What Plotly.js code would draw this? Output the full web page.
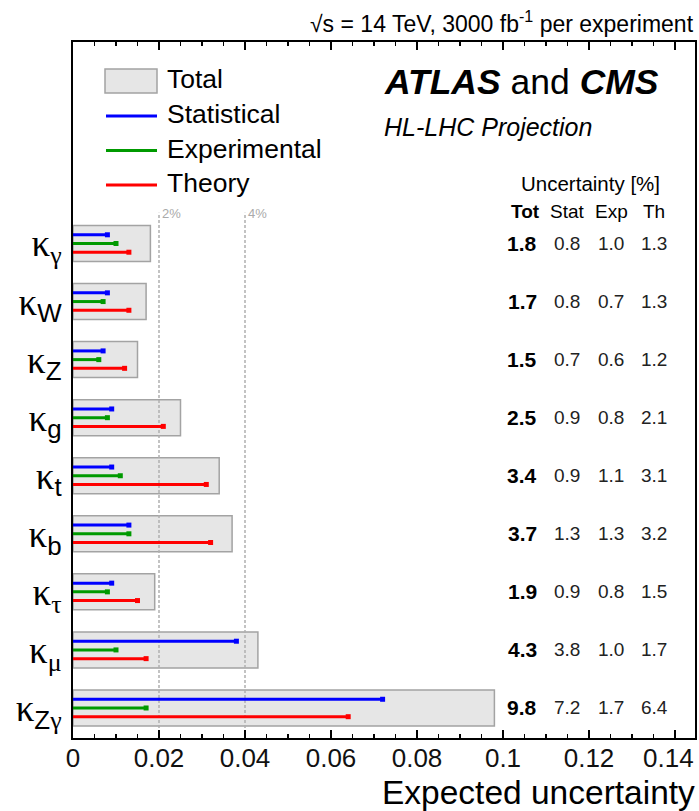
<!DOCTYPE html>
<html>
<head>
<meta charset="utf-8">
<script src="https://cdn.plot.ly/plotly-3.0.1.min.js"></script>
<style>html,body{margin:0;padding:0;background:#fff;}#chart{width:699px;height:811px;}</style>
</head>
<body>
<div id="chart"></div>
<script>
// ---- data (uncertainties in %) ----
var categories = ['κγ', 'κW', 'κZ', 'κg', 'κt', 'κb', 'κτ', 'κμ', 'κZγ'];
var subscripts = ['γ', 'W', 'Z', 'g', 't', 'b', 'τ', 'μ', 'Zγ'];
var totUnc  = [1.8, 1.7, 1.5, 2.5, 3.4, 3.7, 1.9, 4.3, 9.8];
var statUnc = [0.8, 0.8, 0.7, 0.9, 0.9, 1.3, 0.9, 3.8, 7.2];
var expUnc  = [1.0, 0.7, 0.6, 0.8, 1.1, 1.3, 0.8, 1.0, 1.7];
var thUnc   = [1.3, 1.3, 1.2, 2.1, 3.1, 3.2, 1.5, 1.7, 6.4];
var xTickVals = [0, 0.02, 0.04, 0.06, 0.08, 0.1, 0.12, 0.14];
var xTickText = ['0', '0.02', '0.04', '0.06', '0.08', '0.1', '0.12', '0.14'];
var refLines = [0.02, 0.04];
var refLabels = ['2%', '4%'];
var seriesNames = ['Statistical', 'Experimental', 'Theory'];
var colHeaders = ['Tot', 'Stat', 'Exp', 'Th'];

// ---- layout geometry ----
var L = 73, R = 695, T = 42, B = 738;
function px(x) { return (x - L) / (R - L); }
function py(y) { return (B - y) / (B - T); }
var n = categories.length;
var rowY = categories.map(function (c, i) { return n - 1 - i; });
var yRange = [-0.517, -0.517 + (B - T) / 58.06];
var xRange = [0, (R - L) / 4300];
var colX = [(522 - L) / 4300, (567 - L) / 4300, (611 - L) / 4300, (654 - L) / 4300];
var offsets = [0.15, 0, -0.15];
var colors = ['#0000ff', '#009a00', '#ff0000'];
var seriesVals = [statUnc, expUnc, thUnc];

function frac(v) { return v / 100; }

var traces = [];
// total boxes
traces.push({
  type: 'bar', orientation: 'h',
  x: totUnc.map(frac), y: rowY, width: 0.62,
  marker: {color: '#e6e6e6', line: {color: '#a3a3a3', width: 1.5}},
  showlegend: false, hoverinfo: 'x'
});
// reference dashed lines
refLines.forEach(function (v) {
  traces.push({
    type: 'scatter', mode: 'lines', x: [v, v], y: [yRange[0], 8.53],
    line: {color: '#b0b0b0', width: 1.5, dash: '3px,2px'},
    showlegend: false, hoverinfo: 'skip'
  });
});
// uncertainty components
seriesVals.forEach(function (vals, s) {
  var xs = [], ys = [];
  vals.forEach(function (v, i) {
    xs.push(0, frac(v), null);
    ys.push(rowY[i] + offsets[s], rowY[i] + offsets[s], null);
  });
  traces.push({
    type: 'scatter', mode: 'lines', name: seriesNames[s], x: xs, y: ys,
    line: {color: colors[s], width: 3}, showlegend: false, hoverinfo: 'skip'
  });
  traces.push({
    type: 'scatter', mode: 'markers', x: vals.map(frac),
    y: rowY.map(function (y) { return y + offsets[s]; }),
    marker: {color: colors[s], symbol: 'square', size: 5},
    showlegend: false, hoverinfo: 'x'
  });
});

function tickLabel(sub) {
  var greek = /[γτμ]/;
  var out = '';
  for (var k = 0; k < sub.length; k++) {
    var ch = sub[k];
    if (greek.test(ch)) out += ch;
    else out += '<span style="font-family:Liberation Sans">' + ch + '</span>';
  }
  return 'κ<sub>' + out + '</sub>';
}

var annotations = [];
var shapes = [];
// header
annotations.push({xref: 'paper', yref: 'paper', x: px(696), y: py(22), xanchor: 'right', yanchor: 'middle',
  text: '√s = 14 TeV, 3000 fb<sup>-1</sup> per experiment', showarrow: false,
  font: {family: 'Liberation Sans', size: 23, color: '#000'}});
annotations.push({xref: 'paper', yref: 'paper', x: px(382), y: py(82), xanchor: 'left', yanchor: 'middle',
  text: '<b><i>ATLAS</i></b> and <b><i>CMS</i></b>', showarrow: false,
  font: {family: 'Liberation Sans', size: 35.5, color: '#000'}});
annotations.push({xref: 'paper', yref: 'paper', x: px(382), y: py(127), xanchor: 'left', yanchor: 'middle',
  text: '<i>HL-LHC Projection</i>', showarrow: false,
  font: {family: 'Liberation Sans', size: 25, color: '#000'}});
annotations.push({xref: 'paper', yref: 'paper', x: px(590), y: py(183), xanchor: 'center', yanchor: 'middle',
  text: 'Uncertainty [%]', showarrow: false,
  font: {family: 'Liberation Sans', size: 20.5, color: '#000'}});
colHeaders.forEach(function (h, c) {
  annotations.push({xref: 'x', yref: 'paper', x: colX[c] + (c === 0 ? 0.0008 : 0), y: py(212), xanchor: 'center', yanchor: 'middle',
    text: c === 0 ? '<b>' + h + '</b>' : h, showarrow: false,
    font: {family: 'Liberation Sans', size: 19, color: '#000'}});
});
// table values
var tableCols = [totUnc, statUnc, expUnc, thUnc];
tableCols.forEach(function (vals, c) {
  vals.forEach(function (v, i) {
    annotations.push({xref: 'x', yref: 'y', x: colX[c], y: rowY[i], xanchor: 'center', yanchor: 'middle',
      text: c === 0 ? '<b>' + v.toFixed(1) + '</b>' : v.toFixed(1), showarrow: false,
      font: {family: 'Liberation Sans', size: c === 0 ? 21 : 19, color: c === 0 ? '#000' : '#222'}});
  });
});
// ref line labels
refLines.forEach(function (v, k) {
  annotations.push({xref: 'x', yref: 'paper', x: v, xshift: 1, y: py(214), xanchor: 'left', yanchor: 'middle',
    text: refLabels[k], showarrow: false,
    font: {family: 'Liberation Sans', size: 13, color: '#aaaaaa'}});
});
// last x tick label, shifted inside the figure as in the reference
annotations.push({xref: 'paper', yref: 'paper', x: px(696), y: py(758), xanchor: 'right', yanchor: 'middle',
  text: xTickText[xTickText.length - 1], showarrow: false,
  font: {family: 'Liberation Sans', size: 26, color: '#111'}});
var xTickShown = xTickText.map(function (t, k) { return k === xTickText.length - 1 ? '' : t; });

// custom legend
shapes.push({type: 'rect', xref: 'paper', yref: 'paper', x0: px(105), x1: px(157), y0: py(93), y1: py(69),
  fillcolor: '#e6e6e6', line: {color: '#a3a3a3', width: 1.5}});
var legendY = [116, 150.5, 185];
seriesNames.forEach(function (nm, s) {
  shapes.push({type: 'line', xref: 'paper', yref: 'paper', x0: px(106), x1: px(157),
    y0: py(legendY[s]), y1: py(legendY[s]), line: {color: colors[s], width: 3}});
});
var legendText = ['Total'].concat(seriesNames);
var legendTextY = [79, 114, 149, 183];
legendText.forEach(function (t, k) {
  annotations.push({xref: 'paper', yref: 'paper', x: px(165), y: py(legendTextY[k]), xanchor: 'left', yanchor: 'middle',
    text: t, showarrow: false, font: {family: 'Liberation Sans', size: 26.5, color: '#000'}});
});
// axis title
annotations.push({xref: 'paper', yref: 'paper', x: px(697), y: py(792), xanchor: 'right', yanchor: 'middle',
  text: 'Expected uncertainty', showarrow: false,
  font: {family: 'Liberation Sans', size: 33.5, color: '#000'}});

var layout = {
  width: 699, height: 811,
  margin: {l: L, r: 699 - R, t: T, b: 811 - B, pad: 0},
  paper_bgcolor: '#fff', plot_bgcolor: '#fff',
  showlegend: false,
  barmode: 'overlay',
  xaxis: {
    range: xRange, tickmode: 'array', tickvals: xTickVals, ticktext: xTickShown,
    ticks: 'inside', ticklen: 8, tickwidth: 1.5, tickcolor: '#000',
    minor: {tickmode: 'linear', tick0: 0, dtick: 0.005, ticks: 'inside', ticklen: 4, tickwidth: 1.2, tickcolor: '#000', showgrid: false},
    showline: true, linecolor: '#000', linewidth: 2, mirror: 'ticks',
    showgrid: false, zeroline: false, ticklabelstandoff: -4,
    tickfont: {family: 'Liberation Sans', size: 26, color: '#111'}
  },
  yaxis: {
    range: yRange, tickmode: 'array', tickvals: rowY, ticktext: subscripts.map(tickLabel),
    ticks: '', showline: true, linecolor: '#000', linewidth: 2, mirror: true,
    showgrid: false, zeroline: false, ticklabelstandoff: 2,
    tickfont: {family: 'Liberation Serif', size: 37, color: '#000'}
  },
  annotations: annotations,
  shapes: shapes
};

Plotly.newPlot('chart', traces, layout, {displayModeBar: false, staticPlot: true});
</script>
</body>
</html>
